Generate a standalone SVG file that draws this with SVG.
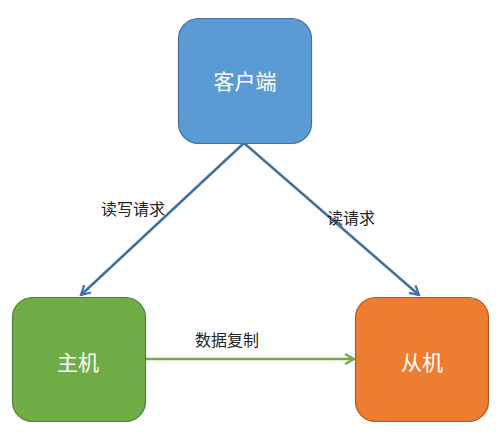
<svg xmlns="http://www.w3.org/2000/svg" width="500" height="432" viewBox="0 0 500 432">
<style>
.box{stroke-width:1.2}
.nt{font-family:"Liberation Sans","Noto Sans CJK SC",sans-serif;font-size:21px;fill:#fff;text-anchor:middle;dominant-baseline:central}
.lt{font-family:"Liberation Sans","Noto Sans CJK SC",sans-serif;font-size:16px;fill:#222;text-anchor:middle;dominant-baseline:central}
.c{fill:none;stroke-width:2.5}
</style>
<defs>
<marker id="ab" viewBox="0 0 12 12" refX="10" refY="6" markerWidth="12" markerHeight="12" markerUnits="userSpaceOnUse" orient="auto"><path d="M1,1 L10,6 L1,11" fill="none" stroke="#41719C" stroke-width="2.2"/></marker>
<marker id="ag" viewBox="0 0 12 12" refX="10" refY="6" markerWidth="12" markerHeight="12" markerUnits="userSpaceOnUse" orient="auto"><path d="M1,1 L10,6 L1,11" fill="none" stroke="#70AD47" stroke-width="2.2"/></marker>
</defs>
<rect width="500" height="432" fill="#fff"/>
<g id="connectors">
<line class="c" x1="244" y1="143" x2="81" y2="295" stroke="#41719C" marker-end="url(#ab)"/>
<line class="c" x1="244" y1="143" x2="419" y2="295" stroke="#41719C" marker-end="url(#ab)"/>
<line class="c" x1="145" y1="359" x2="354" y2="359" stroke="#70AD47" marker-end="url(#ag)"/>
<text class="lt" x="133" y="209">读写请求</text>
<text class="lt" x="351" y="218">读请求</text>
<text class="lt" x="227" y="340">数据复制</text>
</g>
<g id="client">
<rect class="box" x="178.5" y="18.5" width="133" height="125" rx="20" fill="#5B9BD5" stroke="#41719C"/>
<text class="nt" x="245" y="81">客户端</text>
</g>
<g id="master">
<rect class="box" x="12.5" y="297.5" width="133" height="124" rx="20" fill="#70AD47" stroke="#507E32"/>
<text class="nt" x="78" y="362">主机</text>
</g>
<g id="slave">
<rect class="box" x="355.5" y="297.5" width="133" height="124" rx="20" fill="#ED7D31" stroke="#AE5A21"/>
<text class="nt" x="422" y="362">从机</text>
</g>
</svg>
